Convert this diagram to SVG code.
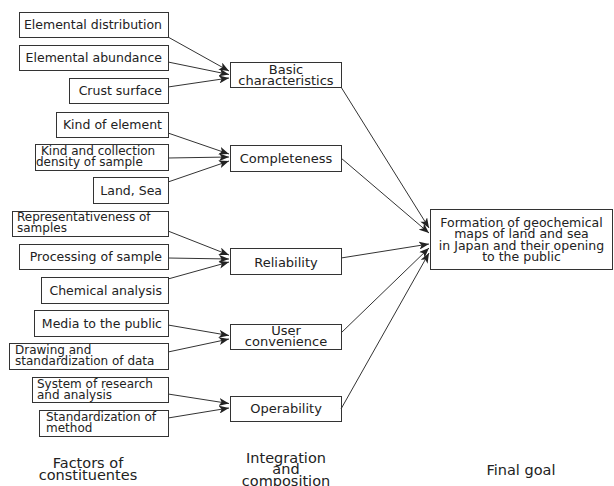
<svg xmlns="http://www.w3.org/2000/svg" width="614" height="486" viewBox="0 0 614 486">
<style>
.box{fill:#fff;stroke:#333;stroke-width:1}
text{font-family:"DejaVu Sans","Liberation Sans",sans-serif;fill:#222}
.t{font-size:12.5px}
.t2{font-size:12px}
.r{text-anchor:end}
.c{text-anchor:middle}
.m{font-size:13px}
.h{font-size:14.5px;text-anchor:middle}
.con line{stroke:#333;stroke-width:1;marker-end:url(#ah)}
</style>
<defs>
<marker id="ah" viewBox="0 0 10 8" refX="10" refY="4" markerWidth="10" markerHeight="8" markerUnits="userSpaceOnUse" orient="auto">
<path d="M0,0 L10,4 L0,8 L2.5,4 z" fill="#222"/>
</marker>
</defs>
<rect width="614" height="486" fill="#fff"/>
<g id="f1"><rect class="box" x="19.5" y="12.5" width="149" height="25"/><text class="t r" x="162" y="29">Elemental distribution</text></g>
<g id="f2"><rect class="box" x="19.5" y="45.5" width="149" height="25"/><text class="t r" x="162" y="62">Elemental abundance</text></g>
<g id="f3"><rect class="box" x="69.5" y="78.5" width="99" height="25"/><text class="t r" x="162" y="95">Crust surface</text></g>
<g id="f4"><rect class="box" x="56.5" y="112.5" width="112" height="25"/><text class="t r" x="162" y="129">Kind of element</text></g>
<g id="f5"><rect class="box" x="35.5" y="144.5" width="133" height="26"/><text class="t2" x="41" y="155">Kind and collection</text><text class="t2" x="36" y="165.5">density of sample</text></g>
<g id="f6"><rect class="box" x="93.5" y="177.5" width="75" height="26"/><text class="t r" x="162" y="195">Land, Sea</text></g>
<g id="f7"><rect class="box" x="12.5" y="211.5" width="156" height="25"/><text class="t2" x="17" y="221">Representativeness of</text><text class="t2" x="17" y="232">samples</text></g>
<g id="f8"><rect class="box" x="19.5" y="244.5" width="149" height="25"/><text class="t r" x="162" y="261">Processing of sample</text></g>
<g id="f9"><rect class="box" x="41.5" y="277.5" width="127" height="26"/><text class="t r" x="162" y="295">Chemical analysis</text></g>
<g id="f10"><rect class="box" x="34.5" y="310.5" width="134" height="26"/><text class="t r" x="162" y="327.5">Media to the public</text></g>
<g id="f11"><rect class="box" x="9.5" y="343.5" width="159" height="26"/><text class="t2" x="15" y="354">Drawing and</text><text class="t2" x="15" y="365">standardization of data</text></g>
<g id="f12"><rect class="box" x="32.5" y="377.5" width="136" height="25"/><text class="t2" x="37" y="387.5">System of research</text><text class="t2" x="37" y="399">and analysis</text></g>
<g id="f13"><rect class="box" x="39.5" y="410.5" width="129" height="26"/><text class="t2" x="46" y="420.5">Standardization of</text><text class="t2" x="46" y="431.5">method</text></g>
<g id="i1"><rect class="box" x="230.5" y="62.5" width="111" height="25"/><text class="m c" x="286" y="73.5">Basic</text><text class="m c" x="286" y="84.5">characteristics</text></g>
<g id="i2"><rect class="box" x="230.5" y="145.5" width="111" height="26"/><text class="m c" x="286" y="162.5">Completeness</text></g>
<g id="i3"><rect class="box" x="230.5" y="248.5" width="111" height="26"/><text class="m c" x="286" y="266.5">Reliability</text></g>
<g id="i4"><rect class="box" x="230.5" y="324.5" width="111" height="25"/><text class="m c" x="286" y="334.5">User</text><text class="m c" x="286" y="346">convenience</text></g>
<g id="i5"><rect class="box" x="230.5" y="396.5" width="111" height="25"/><text class="m c" x="286" y="412.5">Operability</text></g>
<g id="goal"><rect class="box" x="430.5" y="209.5" width="182" height="60"/><text class="t c" x="521.5" y="226.5">Formation of geochemical</text><text class="t c" x="521.5" y="238">maps of land and sea</text><text class="t c" x="521.5" y="249.5">in Japan and their opening</text><text class="t c" x="521.5" y="261">to the public</text></g>
<g id="labels">
<text class="h" x="88" y="467.5">Factors of</text><text class="h" x="88" y="480">constituentes</text>
<text class="h" x="286" y="462.5">Integration</text><text class="h" x="286" y="474">and</text><text class="h" x="286" y="485.5">composition</text>
<text class="h" x="521" y="475">Final goal</text>
</g>
<g class="con" id="connectors">
<line x1="168" y1="37" x2="229" y2="71"/>
<line x1="168" y1="62" x2="229" y2="74.5"/>
<line x1="168" y1="87" x2="229" y2="78"/>
<line x1="168" y1="133" x2="229" y2="154"/>
<line x1="168" y1="158" x2="229" y2="157"/>
<line x1="168" y1="182" x2="229" y2="161"/>
<line x1="168" y1="231" x2="229" y2="255"/>
<line x1="168" y1="258" x2="229" y2="259"/>
<line x1="168" y1="279" x2="229" y2="262"/>
<line x1="168" y1="325" x2="229" y2="335.5"/>
<line x1="168" y1="352" x2="229" y2="339"/>
<line x1="168" y1="394" x2="229" y2="403.5"/>
<line x1="168" y1="418" x2="229" y2="408"/>
<line x1="341" y1="87" x2="429" y2="228"/>
<line x1="341" y1="158" x2="429" y2="233"/>
<line x1="341" y1="258" x2="429" y2="244"/>
<line x1="341" y1="333" x2="429" y2="248"/>
<line x1="341" y1="409" x2="429" y2="253"/>
</g>
</svg>
